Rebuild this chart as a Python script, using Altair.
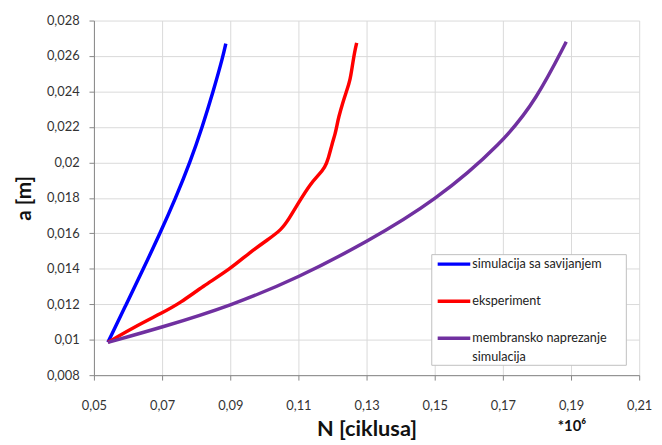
import altair as alt
import pandas as pd

series_names = ["simulacija sa savijanjem", "eksperiment", "membransko naprezanje simulacija"]
series_colors = ["#0000ff", "#ff0000", "#7030a0"]

blue_x = [0.0541, 0.0595, 0.0645, 0.0694, 0.0740, 0.0782, 0.0818, 0.0850, 0.0879, 0.0887]
blue_y = [0.00985, 0.0120, 0.0140, 0.0160, 0.0180, 0.0200, 0.0220, 0.0240, 0.0260, 0.0267]

red_x = [0.0541, 0.0616, 0.0701, 0.0753, 0.0819, 0.0901, 0.0958, 0.1011, 0.1050, 0.1072,
         0.1103, 0.1137, 0.1160, 0.1178, 0.1188, 0.1199, 0.1208, 0.1213, 0.1218, 0.1230,
         0.1243, 0.1252, 0.1258, 0.1265, 0.1271]
red_y = [0.00985, 0.01069, 0.01152, 0.01207, 0.0130, 0.0140, 0.01494, 0.01565, 0.0162, 0.0168,
         0.01781, 0.01883, 0.0193, 0.01972, 0.02022, 0.02106, 0.02161, 0.02207, 0.02254, 0.02337,
         0.02411, 0.02467, 0.02541, 0.02624, 0.02674]

purple_x = [0.0541, 0.0700, 0.0900, 0.1100, 0.1300, 0.1500, 0.1700, 0.1800, 0.1886]
purple_y = [0.00985, 0.0107, 0.0119, 0.0135, 0.0155, 0.0178, 0.0211, 0.0236, 0.0268]

x_ticks = [0.05, 0.07, 0.09, 0.11, 0.13, 0.15, 0.17, 0.19, 0.21]
y_ticks = [0.008, 0.010, 0.012, 0.014, 0.016, 0.018, 0.020, 0.022, 0.024, 0.026, 0.028]

legend_line1 = ["simulacija sa savijanjem", "eksperiment", "membransko naprezanje"]
legend_line2 = ["", "", "simulacija"]

rows = []
for name, xs, ys in zip(series_names, [blue_x, red_x, purple_x], [blue_y, red_y, purple_y]):
    for i, (xv, yv) in enumerate(zip(xs, ys)):
        rows.append({"series": name, "N": xv, "a": yv, "order": i})
df = pd.DataFrame(rows)

FONT = "Lato"
color_scale = alt.Scale(domain=series_names, range=series_colors)

x_scale = alt.Scale(domain=[0.05, 0.21], nice=False, zero=False)
y_scale = alt.Scale(domain=[0.008, 0.028], nice=False, zero=False)

lines = alt.Chart(df).mark_line(strokeWidth=3.5, interpolate="basis").encode(
    x=alt.X("N:Q", scale=x_scale,
            axis=alt.Axis(values=x_ticks, title="N [ciklusa]",
                          labelExpr="replace(format(datum.value, '.2f'), '.', ',')",
                          labelFlush=False, labelOverlap=False,
                          tickSize=5, labelPadding=20, titlePadding=6,
                          titleFontSize=22, titleFontWeight="bold", titleFont=FONT,
                          labelFont=FONT, labelFontSize=13, labelColor="#333333",
                          titleColor="#111111",
                          gridColor="#d9d9d9", domainColor="#868686", tickColor="#868686")),
    y=alt.Y("a:Q", scale=y_scale,
            axis=alt.Axis(values=y_ticks, title="a [m]",
                          labelExpr="replace(format(datum.value, '.3~f'), '.', ',')",
                          labelFlush=False, labelOverlap=False,
                          tickSize=5, labelPadding=10, titlePadding=12,
                          titleFontSize=21, titleFontWeight="bold", titleFont=FONT,
                          labelFont=FONT, labelFontSize=13, labelColor="#333333",
                          titleColor="#111111",
                          gridColor="#d9d9d9", domainColor="#868686", tickColor="#868686")),
    color=alt.Color("series:N", scale=color_scale, legend=None),
    order="order:Q",
    detail="series:N",
)

# annotation *10^6
mult = alt.Chart(pd.DataFrame({"t": ["*10⁶"]})).mark_text(
    font=FONT, fontSize=15, fontWeight="bold", color="#111111", baseline="middle"
).encode(x=alt.value(484), y=alt.value(411), text="t:N")

# manual legend
leg_box = alt.Chart(pd.DataFrame({"k": [0]})).mark_rect(
    fill="white", stroke="#bfbfbf", strokeWidth=1
).encode(x=alt.value(342), x2=alt.value(539), y=alt.value(237), y2=alt.value(349))

leg_df = pd.DataFrame({
    "series": series_names,
    "line1": legend_line1,
    "line2": legend_line2,
    "k": [0, 1, 2],
})
pos1 = alt.Scale(domain=[0, 2], range=[246.6, 321.6])
leg_sym = alt.Chart(leg_df).mark_rule(strokeWidth=3.5).encode(
    x=alt.value(348), x2=alt.value(381),
    y=alt.Y("k:Q", scale=pos1, axis=None),
    color=alt.Color("series:N", scale=color_scale, legend=None),
)
leg_txt1 = alt.Chart(leg_df).mark_text(
    font=FONT, fontSize=12.8, align="left", baseline="middle", color="#222222"
).encode(
    x=alt.value(383),
    y=alt.Y("k:Q", scale=pos1, axis=None),
    text="line1:N",
)
leg_txt2 = alt.Chart(leg_df).mark_text(
    font=FONT, fontSize=12.8, align="left", baseline="middle", color="#222222", dy=19
).encode(
    x=alt.value(383),
    y=alt.Y("k:Q", scale=pos1, axis=None),
    text="line2:N",
)

legend = alt.layer(leg_box, leg_sym, leg_txt1, leg_txt2)

chart = alt.layer(lines, mult, legend).resolve_scale(
    y="independent"
).properties(
    width=552, height=359,
    autosize=alt.AutoSizeParams(type="none"),
    padding={"left": 87, "top": 10, "right": 15, "bottom": 68},
).configure_view(stroke=None).configure_axis(grid=True)

chart.save("out.html", embed_options={"renderer": "svg", "actions": False})
